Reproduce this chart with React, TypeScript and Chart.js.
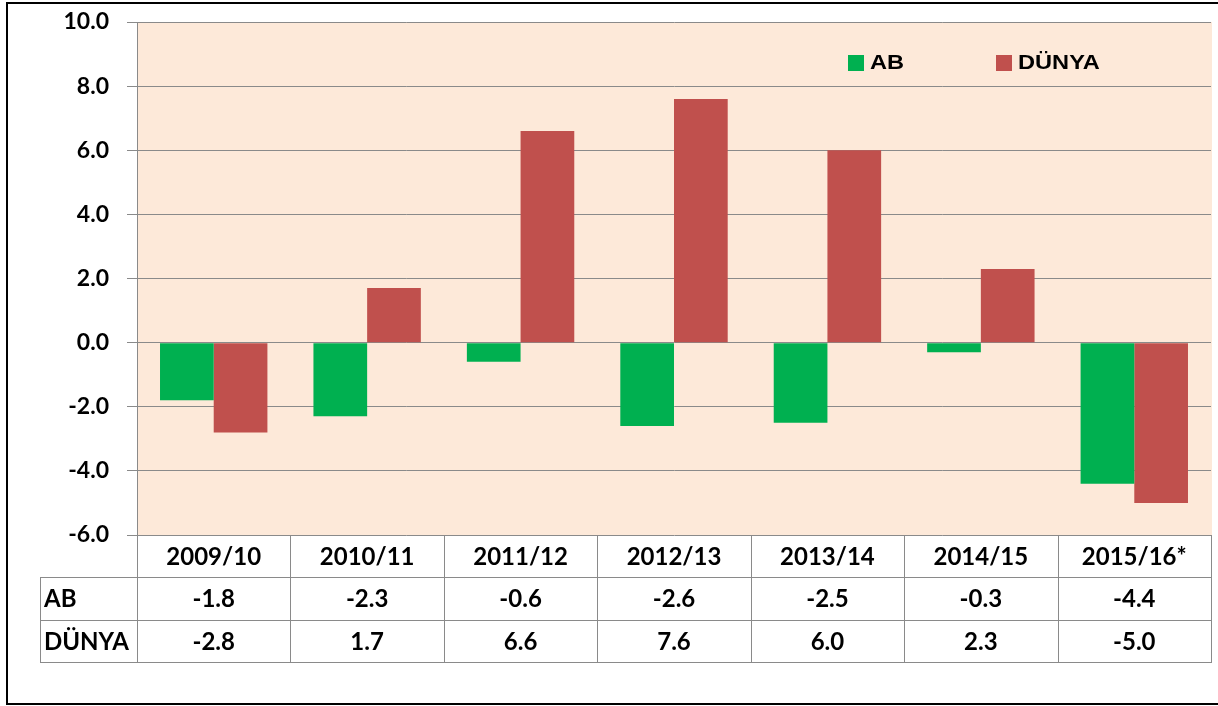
import React, { useEffect, useRef } from "react";
import { Chart, registerables } from "chart.js";

Chart.register(...registerables);

const categories = ["2009/10", "2010/11", "2011/12", "2012/13", "2013/14", "2014/15", "2015/16*"];
const abValues = [-1.8, -2.3, -0.6, -2.6, -2.5, -0.3, -4.4];
const dunyaValues = [-2.8, 1.7, 6.6, 7.6, 6.0, 2.3, -5.0];
const seriesNames = ["AB", "DÜNYA"];
const yMin = -6;
const yMax = 10;
const yStep = 2;

const GREEN = "#00B050";
const RED = "#C0504D";
const BG = "#FDE9D9";
const GRID = "#8a8a8a";
const FONT = "Lato, 'Open Sans', sans-serif";

const decorPlugin = {
  id: "decor",
  beforeDraw(chart: any) {
    const { ctx, chartArea } = chart;
    ctx.save();
    ctx.fillStyle = "#ffffff";
    ctx.fillRect(0, 0, chart.width, chart.height);
    ctx.fillStyle = BG;
    ctx.fillRect(chartArea.left, chartArea.top, chartArea.right - chartArea.left + 1, chartArea.bottom - chartArea.top);
    ctx.restore();
  },
  afterDraw(chart: any) {
    const { ctx, chartArea } = chart;
    const left = chartArea.left;
    const right = chartArea.right;
    const n = categories.length;
    const colW = (right - left) / n;
    const top = chartArea.bottom;
    const r1 = top + 42;
    const r2 = r1 + 43;
    const r3 = r2 + 42;
    const tableLeft = 40;
    ctx.save();
    ctx.strokeStyle = GRID;
    ctx.lineWidth = 1;
    ctx.beginPath();
    const xs = chart.scales.x;
    for (let i = 0; i <= n; i++) {
      const cx = i < n ? xs.getPixelForValue(i) - colW / 2 : xs.getPixelForValue(n - 1) + colW / 2;
      const px = Math.round(cx) + 0.5;
      ctx.moveTo(px, top);
      ctx.lineTo(px, r3);
    }
    ctx.moveTo(tableLeft + 0.5, r1);
    ctx.lineTo(tableLeft + 0.5, r3);
    ctx.moveTo(tableLeft, Math.round(r1) + 0.5);
    ctx.lineTo(right + 1, Math.round(r1) + 0.5);
    ctx.moveTo(tableLeft, Math.round(r2) + 0.5);
    ctx.lineTo(right + 1, Math.round(r2) + 0.5);
    ctx.moveTo(tableLeft, Math.round(r3) + 0.5);
    ctx.lineTo(right + 1, Math.round(r3) + 0.5);
    ctx.stroke();

    ctx.fillStyle = "#000";
    ctx.font = `bold 24px ${FONT}`;
    ctx.textBaseline = "middle";
    ctx.textAlign = "center";
    const rows = [abValues, dunyaValues];
    for (let i = 0; i < n; i++) {
      const cx = xs.getPixelForValue(i);
      ctx.fillText(categories[i], cx, (top + r1) / 2 + 1);
      ctx.fillText(rows[0][i].toFixed(1), cx, (r1 + r2) / 2 + 1);
      ctx.fillText(rows[1][i].toFixed(1), cx, (r2 + r3) / 2 + 1);
    }
    ctx.textAlign = "left";
    ctx.fillText(seriesNames[0], tableLeft + 4, (r1 + r2) / 2 + 1);
    ctx.fillText(seriesNames[1], tableLeft + 4, (r2 + r3) / 2 + 1);

    const legendItems = [
      { x: 848, color: GREEN, label: seriesNames[0] },
      { x: 996, color: RED, label: seriesNames[1] },
    ];
    ctx.font = `bold 20px 'Liberation Sans', Arial, sans-serif`;
    for (const it of legendItems) {
      ctx.fillStyle = it.color;
      ctx.fillRect(it.x, 55, 16, 16);
      ctx.fillStyle = "#000";
      ctx.save();
      ctx.translate(it.x + 22, 63.5);
      ctx.scale(1.18, 1);
      ctx.fillText(it.label, 0, 0);
      ctx.restore();
    }

    ctx.fillStyle = "#000";
    ctx.fillRect(6, 2, chart.width - 6, 2);
    ctx.fillRect(6, 2, 2, chart.height - 3);
    ctx.fillRect(6, 703, chart.width - 6, 2);
    ctx.restore();
  },
};

export default function App() {
  const ref = useRef<HTMLCanvasElement | null>(null);
  useEffect(() => {
    if (!ref.current) return;
    const chart = new Chart(ref.current, {
      type: "bar",
      data: {
        labels: categories,
        datasets: [
          { label: seriesNames[0], data: abValues, backgroundColor: GREEN, borderWidth: 0 },
          { label: seriesNames[1], data: dunyaValues, backgroundColor: RED, borderWidth: 0 },
        ],
      },
      options: {
        animation: false,
        responsive: false,
        maintainAspectRatio: false,
        layout: { padding: { left: 0, right: 7, top: 22, bottom: 171 } },
        datasets: { bar: { categoryPercentage: 0.7, barPercentage: 1.0 } },
        plugins: { legend: { display: false }, tooltip: { enabled: false } },
        scales: {
          x: { display: false, grid: { display: false } },
          y: {
            min: yMin,
            max: yMax,
            afterFit(scale: any) {
              scale.width = 137;
              scale.paddingTop = 0;
              scale.paddingBottom = 0;
            },
            ticks: {
              stepSize: yStep,
              padding: 18,
              color: "#000",
              font: { family: FONT, weight: "bold", size: 23 },
              callback: (v: any) => Number(v).toFixed(1),
            },
            grid: { color: GRID, tickLength: 10, lineWidth: 1 },
            border: { color: GRID },
          },
        },
      },
      plugins: [decorPlugin],
    });
    return () => chart.destroy();
  }, []);
  return (
    <div style={{ position: "fixed", left: 0, top: 0, width: 1218, height: 706, background: "#fff" }}>
      <canvas ref={ref} width={1218} height={706} style={{ width: 1218, height: 706, display: "block" }} />
    </div>
  );
}
